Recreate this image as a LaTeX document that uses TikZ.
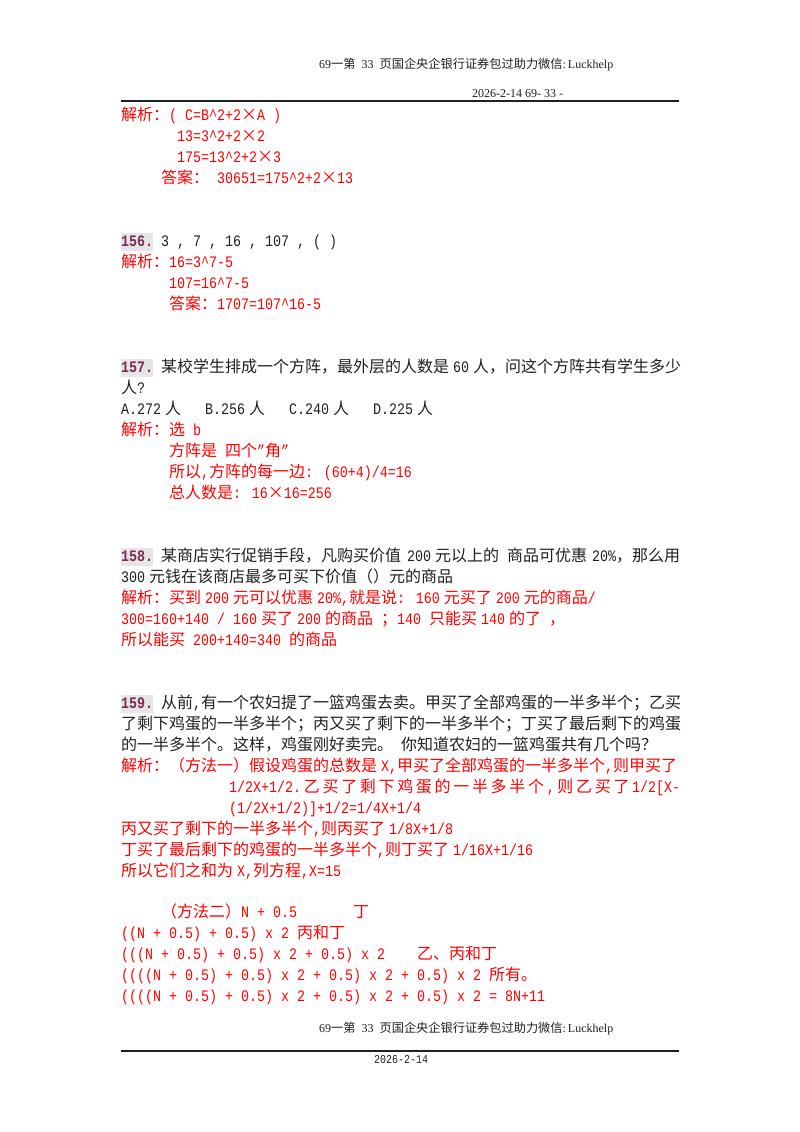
\documentclass[tikz,border=0pt]{standalone}
\usepackage{fontspec}
\setmainfont[FakeStretch=0.8333]{Liberation Mono}
\newfontfamily\cjkfont{Noto Sans CJK SC}
\newfontfamily\serifhead{Liberation Serif}
\def\cjksize{16}
\def\cjkgap{0pt}
\def\cjkon{\cjkfont\fontsize{\cjksize}{\cjksize}\selectfont}
\chardef\cjkclass=5
\newcount\cc
\cc="4E00
\loop\XeTeXcharclass\cc=\cjkclass\relax\ifnum\cc<"9FFF\advance\cc by 1\relax\repeat
\cc="3000
\loop\XeTeXcharclass\cc=\cjkclass\relax\ifnum\cc<"303F\advance\cc by 1\relax\repeat
\cc="FF00
\loop\XeTeXcharclass\cc=\cjkclass\relax\ifnum\cc<"FF60\advance\cc by 1\relax\repeat
\XeTeXcharclass"D7=\cjkclass\relax
\XeTeXinterchartokenstate=1
\XeTeXinterchartoks 0 \cjkclass={\begingroup\cjkon}
\XeTeXinterchartoks 4095 \cjkclass={\begingroup\cjkon}
\XeTeXinterchartoks \cjkclass 0 ={\endgroup}
\XeTeXinterchartoks \cjkclass 4095 ={\endgroup}
\XeTeXinterchartoks \cjkclass \cjkclass ={\hskip\cjkgap\relax}
\def\ca{\textasciicircum}
\def\ts{\hskip4pt\relax}
\def\gs#1{\hskip#1pt\relax}
\definecolor{numcol}{HTML}{7B2C56}
\definecolor{numbg}{HTML}{E6E6E6}
\definecolor{bodyk}{HTML}{202020}
\tikzset{
 txt/.style={anchor=base west,inner sep=0pt,text=bodyk,font=\fontsize{16}{16}\selectfont},
 rd/.style={txt,text=red},
 numbox/.style={anchor=base west,inner sep=0pt,fill=numbg,text=numcol,text height=13pt,text depth=5pt,minimum width=32pt,font=\fontsize{16}{16}\selectfont\bfseries},
 hdr/.style={anchor=base west,inner sep=0pt,text=bodyk,font=\serifhead\fontsize{12}{12}\selectfont\def\cjksize{12.2}},
 rulel/.style={line width=1.4pt,draw=bodyk}
}
\newcommand\T[5][txt]{\node[#1] (#2) at (#3,#4) {#5};}
\begin{document}
\begin{tikzpicture}[x=1pt,y=-1pt]
\useasboundingbox (0,0) rectangle (800,1132);
\fill[white] (0,0) rectangle (800,1132);
% header
\T[hdr]{h1}{319}{69}{69一第\gs{6}33\gs{6}页国企央企银行证券包过助力微信:\gs{2}Luckhelp}
\T[hdr]{h2}{472}{97}{2026-2-14 69- 33 -}
\coordinate (ra) at (121,101); \coordinate (rb) at (679,101);
\draw[rulel] (ra) -- (rb);
% 155 answer
\T[rd]{a1}{121}{120}{解析：( C=B\ca{}2+2×A )}
\T[rd]{a2}{177}{141}{13=3\ca{}2+2×2}
\T[rd]{a3}{177}{162}{175=13\ca{}2+2×3}
\T[rd]{a4}{161}{183}{答案： 30651=175\ca{}2+2×13}
% 156
\T[numbox]{n156}{121}{246}{156.}
\T{q156}{161}{246}{3 , 7 , 16 , 107 , ( )}
\T[rd]{b1}{121}{267}{解析：16=3\ca{}7-5}
\T[rd]{b2}{169}{288}{107=16\ca{}7-5}
\T[rd]{b3}{169}{309}{答案：1707=107\ca{}16-5}
% 157
\T[numbox]{n157}{121}{372}{157.}
\T{q157a}{161}{372}{某校学生排成一个方阵，最外层的人数是\ts 60\ts 人，问这个方阵共有学生多少}
\T{q157b}{121}{393}{人?}
\T{q157c}{121}{414}{A.272\ts 人\gs{24}B.256\ts 人\gs{24}C.240\ts 人\gs{24}D.225\ts 人}
\T[rd]{c1}{121}{435}{解析：选 b}
\T[rd]{c2}{169}{456}{方阵是 四个"角"}
\T[rd]{c3}{169}{477}{所以,方阵的每一边: (60+4)/4=16}
\T[rd]{c4}{169}{498}{总人数是: 16×16=256}
% 158
\T[numbox]{n158}{121}{561}{158.}
\T{q158a}{161}{561}{某商店实行促销手段，凡购买价值\gs{6}200\ts 元以上的 商品可优惠\gs{5}20\%，那么用}
\T{q158b}{121}{582}{300\ts 元钱在该商店最多可买下价值（）元的商品}
\T[rd]{d1}{121}{603}{解析：买到\ts 200\ts 元可以优惠\ts 20\%,就是说: 160\ts 元买了\ts 200\ts 元的商品/}
\T[rd]{d2}{121}{624}{300=160+140 / 160\ts 买了\ts 200\ts 的商品 ；140 只能买\ts 140\ts 的了 ，}
\T[rd]{d3}{121}{645}{所以能买 200+140=340 的商品}
% 159
\T[numbox]{n159}{121}{708}{159.}
\T{q159a}{161}{708}{从前,有一个农妇提了一篮鸡蛋去卖。甲买了全部鸡蛋的一半多半个；乙买}
\T{q159b}{121}{729}{了剩下鸡蛋的一半多半个；丙又买了剩下的一半多半个；丁买了最后剩下的鸡蛋}
\T{q159c}{121}{750}{的一半多半个。这样，鸡蛋刚好卖完。 你知道农妇的一篮鸡蛋共有几个吗？}
\T[rd]{e1}{121}{771}{解析：（方法一）假设鸡蛋的总数是\ts X,甲买了全部鸡蛋的一半多半个,则甲买了}
\T[rd]{e2}{229}{792}{\hbox to 451pt{\def\cjkgap{0pt plus 1fil}1/2X+1/2.\hfil 乙买了剩下鸡蛋的一半多半个\hfil,\hfil 则乙买了\hfil 1/2[X-}}
\T[rd]{e3}{229}{813}{(1/2X+1/2)]+1/2=1/4X+1/4}
\T[rd]{e4}{121}{834}{丙又买了剩下的一半多半个,则丙买了\ts 1/8X+1/8}
\T[rd]{e5}{121}{855}{丁买了最后剩下的鸡蛋的一半多半个,则丁买了\ts 1/16X+1/16}
\T[rd]{e6}{121}{876}{所以它们之和为\ts X,列方程,X=15}
\T[rd]{f1}{161}{917}{（方法二）N + 0.5\gs{56}丁}
\T[rd]{f2}{121}{938}{((N + 0.5) + 0.5) x 2 丙和丁}
\T[rd]{f3}{121}{959}{(((N + 0.5) + 0.5) x 2 + 0.5) x 2\gs{32}乙、丙和丁}
\T[rd]{f4}{121}{980}{((((N + 0.5) + 0.5) x 2 + 0.5) x 2 + 0.5) x 2 所有。}
\T[rd]{f5}{121}{1001}{((((N + 0.5) + 0.5) x 2 + 0.5) x 2 + 0.5) x 2 = 8N+11}
% footer
\T[hdr]{g1}{319}{1032}{69一第\gs{6}33\gs{6}页国企央企银行证券包过助力微信:\gs{2}Luckhelp}
\coordinate (rc) at (121,1051); \coordinate (rd) at (679,1051);
\draw[rulel] (rc) -- (rd);
\node[txt,font=\fontsize{12}{12}\selectfont] (g2) at (374,1063) {2026-2-14};
\end{tikzpicture}
\end{document}
